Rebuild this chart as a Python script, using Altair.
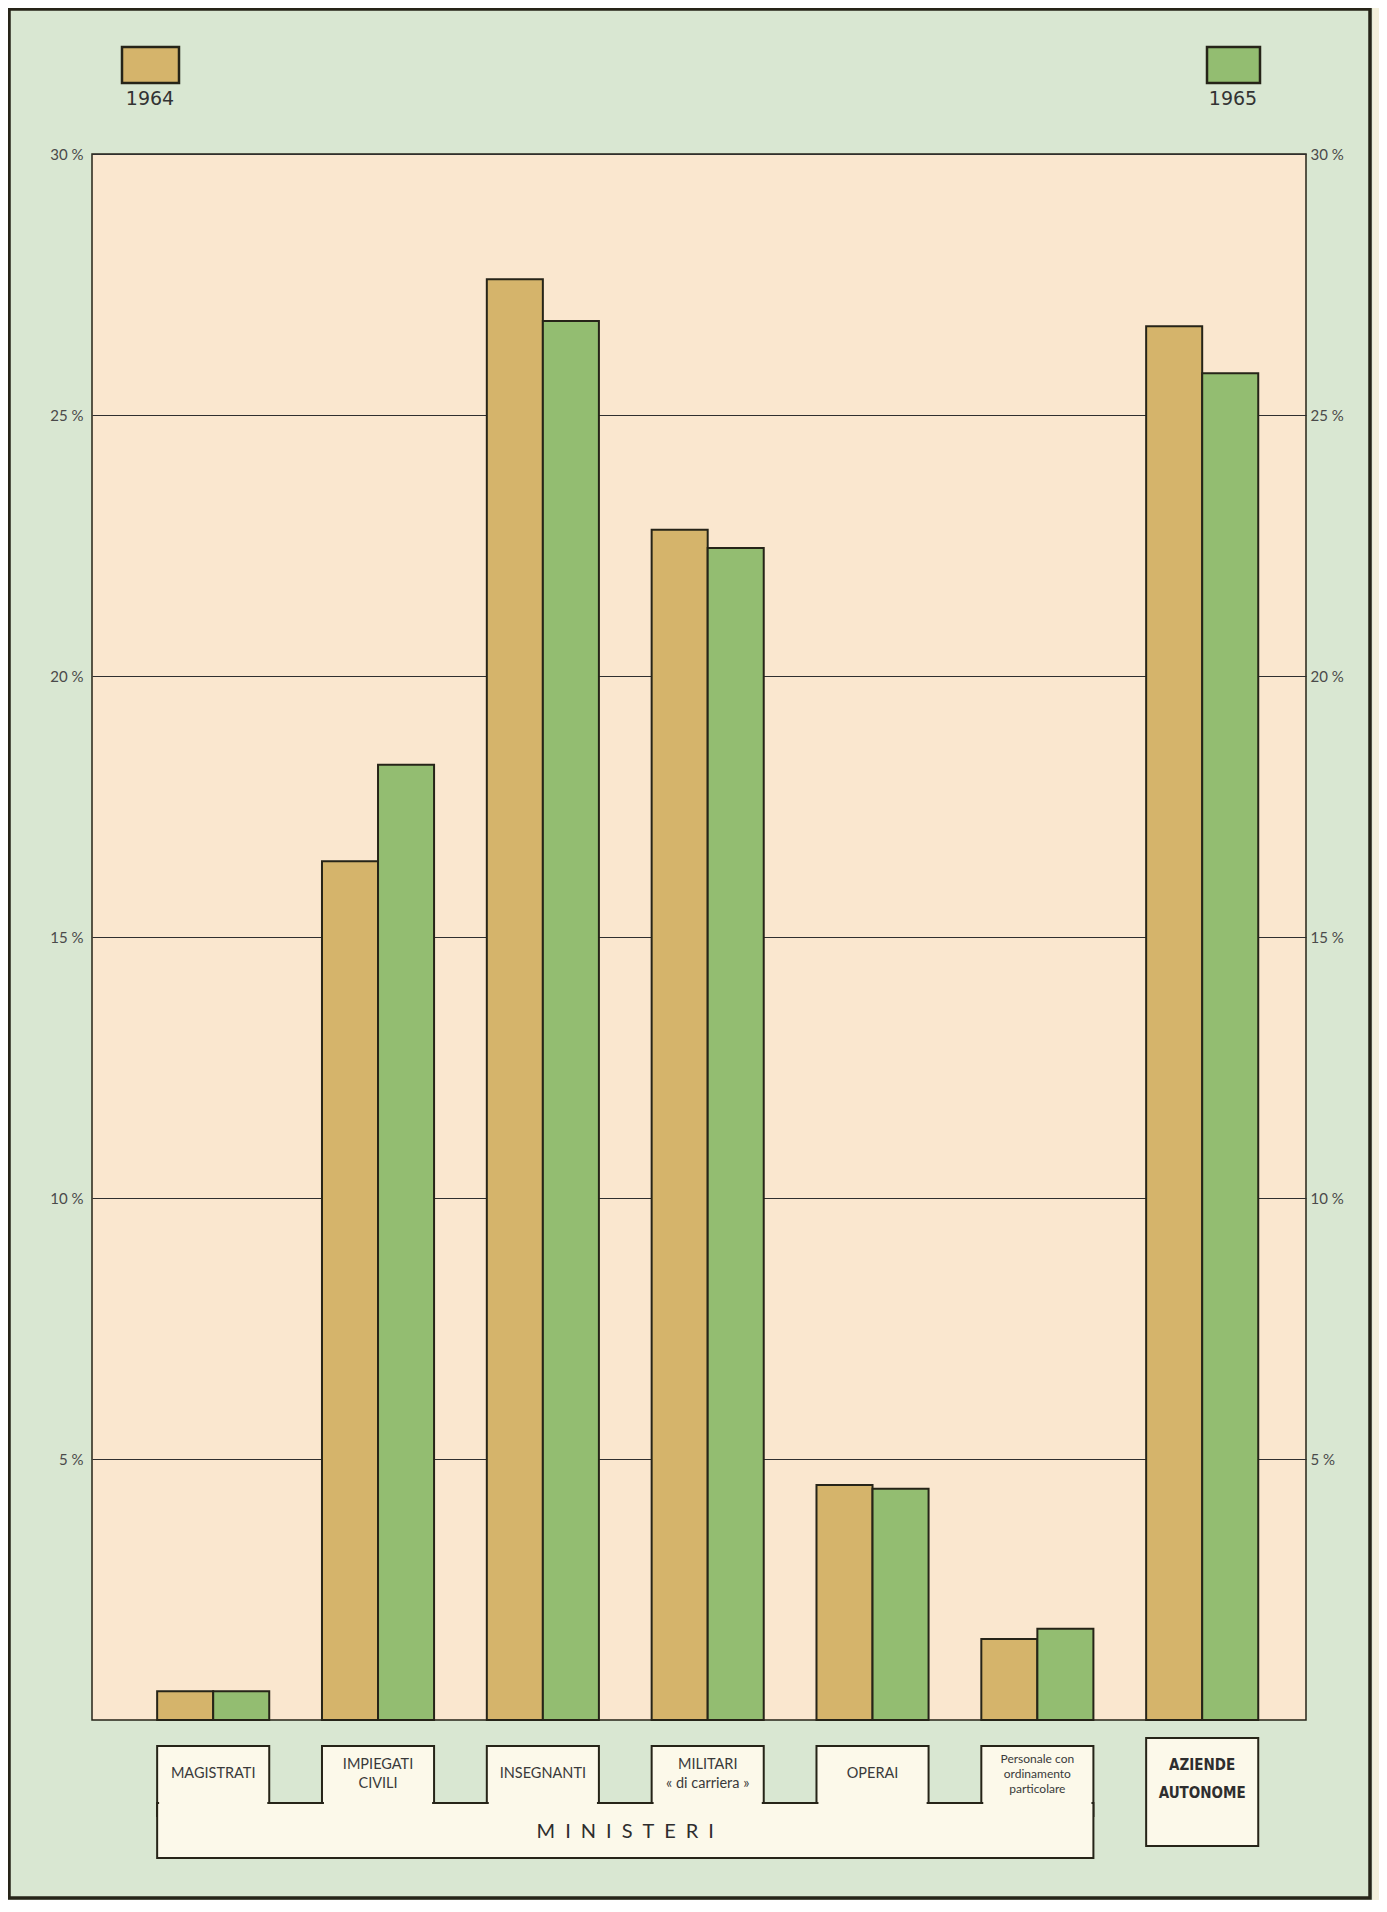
import altair as alt
import pandas as pd

# ---------------- data ----------------
categories = [
    "MAGISTRATI",
    "IMPIEGATI CIVILI",
    "INSEGNANTI",
    "MILITARI di carriera",
    "OPERAI",
    "Personale con ordinamento particolare",
    "AZIENDE AUTONOME",
]
box_labels = [
    "MAGISTRATI",
    "IMPIEGATI\nCIVILI",
    "INSEGNANTI",
    "MILITARI\n« di carriera »",
    "OPERAI",
    "Personale con\nordinamento\nparticolare",
    "AZIENDE\nAUTONOME",
]
label_lines = [1, 2, 1, 2, 1, 3, 2]
years = ["1964", "1965"]
values_1964 = [0.55, 16.45, 27.6, 22.8, 4.5, 1.55, 26.7]
values_1965 = [0.55, 18.3, 26.8, 22.45, 4.43, 1.75, 25.8]
y_ticks = [5, 10, 15, 20, 25, 30]
group_title = "\u2002".join("MINISTERI")

df = pd.DataFrame({
    "categoria": categories * 2,
    "anno": [years[0]] * 7 + [years[1]] * 7,
    "valore": values_1964 + values_1965,
})
labels_df = pd.DataFrame({"categoria": categories, "label": box_labels, "lines": label_lines})
ministeri = labels_df.iloc[:6]

# ---------------- style ----------------
TAN = "#d5b46b"
GREEN = "#93bd71"
PEACH = "#fae7cf"
BG = "#d9e7d2"
CREAM = "#fcf9ea"
INK = "#262418"
FONT = "Lato"

W, H = 1214, 1566
PI, PO, AL = 0.32, 0.3425, 0.577
n = len(categories)
step = W / (n - PI + 2 * PO)
bw = step * (1 - PI)
start0 = (W - step * (n - PI)) * AL
ministeri_center = start0 + (5 * step + bw) / 2

xscale = alt.Scale(domain=categories, paddingInner=PI, paddingOuter=PO, align=AL)
yscale = alt.Scale(domain=[0, 30], nice=False)
one = pd.DataFrame({"k": [0]})
X = alt.X("categoria:N", scale=xscale, axis=None)

# ---------------- layers ----------------
frame = alt.Chart(one).mark_rect(fillOpacity=0, stroke=INK, strokeWidth=3.5).encode(
    x=alt.value(-83), x2=alt.value(1278), y=alt.value(-145), y2=alt.value(1744)
)
right_strip = alt.Chart(one).mark_rect(fill="#f3efdb").encode(
    x=alt.value(1280.5), x2=alt.value(1300), y=alt.value(-160), y2=alt.value(1760)
)

axis_common = dict(
    values=y_ticks, labelExpr="datum.value + ' %'", title=None, ticks=False, domain=False,
    labelFontSize=15, labelColor="#4a4a4a", labelFont=FONT,
)

bars = alt.Chart(df).mark_bar(stroke=INK, strokeWidth=2).encode(
    x=X,
    xOffset=alt.XOffset("anno:N", scale=alt.Scale(domain=years, paddingInner=0, paddingOuter=0)),
    y=alt.Y(
        "valore:Q", scale=yscale,
        axis=alt.Axis(orient="left", grid=True, gridColor="#2f2f2f", gridWidth=1,
                      labelPadding=9, **axis_common),
    ),
    color=alt.Color("anno:N", scale=alt.Scale(domain=years, range=[TAN, GREEN]), legend=None),
)

right_axis = alt.Chart(df).mark_point(opacity=0).encode(
    x=X,
    y=alt.Y("valore:Q", scale=yscale,
            axis=alt.Axis(orient="right", grid=False, labelPadding=4, **axis_common)),
)

boxes = alt.Chart(ministeri).mark_rect(fill=CREAM, stroke=INK, strokeWidth=2).encode(
    x=X, y=alt.value(1592), y2=alt.value(1662),
)

base_df = pd.DataFrame({"start": [categories[0]], "end": [categories[5]]})
base = alt.Chart(base_df).mark_rect(fill=CREAM, stroke=INK, strokeWidth=2).encode(
    x=alt.X("start:N", scale=xscale, axis=None, bandPosition=0),
    x2=alt.X2("end:N", bandPosition=1),
    y=alt.value(1649), y2=alt.value(1704),
)

cover = alt.Chart(ministeri).mark_bar(fill=CREAM, width=alt.RelativeBandSize(0.965)).encode(
    x=X, y=alt.value(1644), y2=alt.value(1655),
)

az_box = alt.Chart(labels_df.iloc[6:]).mark_rect(fill=CREAM, stroke=INK, strokeWidth=2).encode(
    x=X, y=alt.value(1584), y2=alt.value(1692),
)

one_line = labels_df[labels_df["lines"] == 1]
two_line = labels_df.iloc[:5][labels_df.iloc[:5]["lines"] == 2]

txt_one = alt.Chart(one_line).mark_text(fontSize=14.5, font=FONT, color="#3a3a3a").encode(
    x=X, text="label:N", y=alt.value(1620)
)
txt_two = alt.Chart(two_line).mark_text(
    lineBreak="\n", fontSize=14.5, font=FONT, color="#3a3a3a", lineHeight=19
).encode(x=X, text="label:N", y=alt.value(1610.5))

txt_pers = alt.Chart(labels_df.iloc[5:6]).mark_text(
    lineBreak="\n", fontSize=12, font=FONT, color="#3a3a3a", lineHeight=15
).encode(x=X, text="label:N", y=alt.value(1605))

txt_az = alt.Chart(labels_df.iloc[6:]).mark_text(
    lineBreak="\n", fontSize=15, font="DejaVu Sans Condensed", fontWeight="bold",
    color="#2e2e2e", lineHeight=28
).encode(x=X, text="label:N", y=alt.value(1611))

txt_min = alt.Chart(one).mark_text(fontSize=20, font=FONT, color="#2e2e2e").encode(
    x=alt.value(ministeri_center), y=alt.value(1678), text=alt.value(group_title)
)

leg_a = alt.Chart(one).mark_rect(fill=TAN, stroke=INK, strokeWidth=2.5).encode(
    x=alt.value(30), x2=alt.value(87), y=alt.value(-107), y2=alt.value(-71)
)
leg_b = alt.Chart(one).mark_rect(fill=GREEN, stroke=INK, strokeWidth=2.5).encode(
    x=alt.value(1115), x2=alt.value(1168), y=alt.value(-107), y2=alt.value(-71)
)
leg_ta = alt.Chart(one).mark_text(fontSize=19, font="DejaVu Sans", color="#333").encode(
    x=alt.value(58), y=alt.value(-55), text=alt.value(years[0])
)
leg_tb = alt.Chart(one).mark_text(fontSize=19, font="DejaVu Sans", color="#333").encode(
    x=alt.value(1141), y=alt.value(-55), text=alt.value(years[1])
)

chart = (
    alt.layer(
        frame, right_strip, bars, right_axis, boxes, base, cover, az_box,
        txt_one, txt_two, txt_pers, txt_az, txt_min, leg_a, leg_b, leg_ta, leg_tb,
    )
    .resolve_axis(y="independent")
    .properties(
        width=W, height=H,
        autosize=alt.AutoSizeParams(type="none"),
        padding={"left": 84, "top": 146, "right": 73, "bottom": 180},
    )
    .configure(background=BG)
    .configure_view(fill=PEACH, stroke=INK, strokeWidth=1.5)
)

chart.save("out.html", embed_options={"renderer": "svg", "actions": False})
